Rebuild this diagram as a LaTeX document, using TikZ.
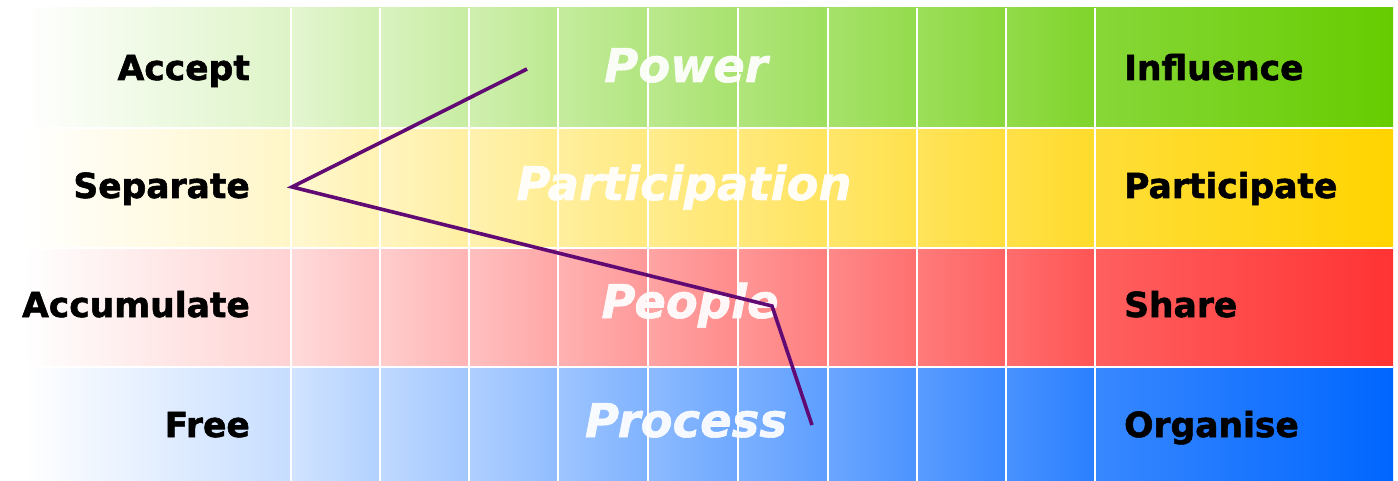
\documentclass[tikz,border=0pt]{standalone}
\usepackage{fontspec}
\setmainfont{DejaVu Sans}
\newfontfamily\sidefont{DejaVu Sans Bold}[FakeBold=1.6]
\newfontfamily\bigfont{DejaVu Sans Bold Oblique}[FakeBold=1.2]
\definecolor{cgreen}{HTML}{66CC00}
\definecolor{cyellow}{HTML}{FFD400}
\definecolor{cred}{HTML}{FF3333}
\definecolor{cblue}{HTML}{0066FF}
\definecolor{cpurple}{HTML}{620A74}
\tikzset{
  sidelabel/.style={font=\fontsize{34.5}{40}\sidefont, text=black, inner sep=0pt},
  biglabel/.style={font=\fontsize{46.5}{52}\bigfont, text=white, text opacity=0.93, inner sep=0pt, anchor=base},
  gridline/.style={draw=white, line width=1.6pt},
  pathline/.style={draw=cpurple, line width=3.6pt, line join=miter}
}
\begin{document}
\begin{tikzpicture}[x=1pt,y=-1pt]
\useasboundingbox (0,0) rectangle (1398,481);
\fill[white] (0,0) rectangle (1398,481);
% bands
\foreach \c/\ya/\yb in {cgreen/8/128, cyellow/128/248, cred/248/367, cblue/367/481} {
  \shade[left color=white, right color=\c!22] (24,\ya) rectangle (291,\yb);
  \foreach \xl/\xr/\tl/\tr in {291/380/22/28.64, 380/469/28.64/35.28, 469/558/35.28/41.93, 558/648/41.93/48.64, 648/738/48.64/55.37, 738/828/55.37/62.09, 828/917/62.09/68.73, 917/1006/68.73/75.37, 1006/1095/75.37/82, 1095/1393/82/100} {
    \pgfmathsetmacro\tla{max(\tl-4,0)}
    \pgfmathsetmacro\tra{min(\tr+1.5,100)}
    \shade[left color=\c!\tla, right color=\c!\tra] (\xl,\ya) rectangle (\xr,\yb);
  }
}
% grid
\foreach \x in {291,380,469,558,648,738,828,917,1006,1095} {
  \draw[gridline] (\x,8) -- (\x,481);
}
\foreach \y in {128,248,367} {
  \draw[gridline] (0,\y) -- (1393,\y);
}
% central labels
\node[biglabel] (power) at (686,82) {Power};
\node[biglabel] (particip) at (684,200) {Participation};
\node[biglabel] (people) at (690,318) {People};
\node[biglabel] (process) at (686,437) {Process};
% left labels
\node[sidelabel, anchor=base east] (accept) at (250,80) {Accept};
\node[sidelabel, anchor=base east] (separate) at (250,198) {Separate};
\node[sidelabel, anchor=base east] (accum) at (250,317) {Accumulate};
\node[sidelabel, anchor=base east] (free) at (250,437) {Free};
% right labels
\node[sidelabel, anchor=base west] (influence) at (1124,80) {Influence};
\node[sidelabel, anchor=base west] (participate) at (1124,198) {Participate};
\node[sidelabel, anchor=base west] (share) at (1124,317) {Share};
\node[sidelabel, anchor=base west] (organise) at (1124,437) {Organise};
% purple path
\coordinate (p1) at (527,69);
\coordinate (p2) at (292,187);
\coordinate (p3) at (772,306);
\coordinate (p4) at (812,425);
\draw[pathline] (p1) -- (p2) -- (p3) -- (p4);
\end{tikzpicture}
\end{document}
